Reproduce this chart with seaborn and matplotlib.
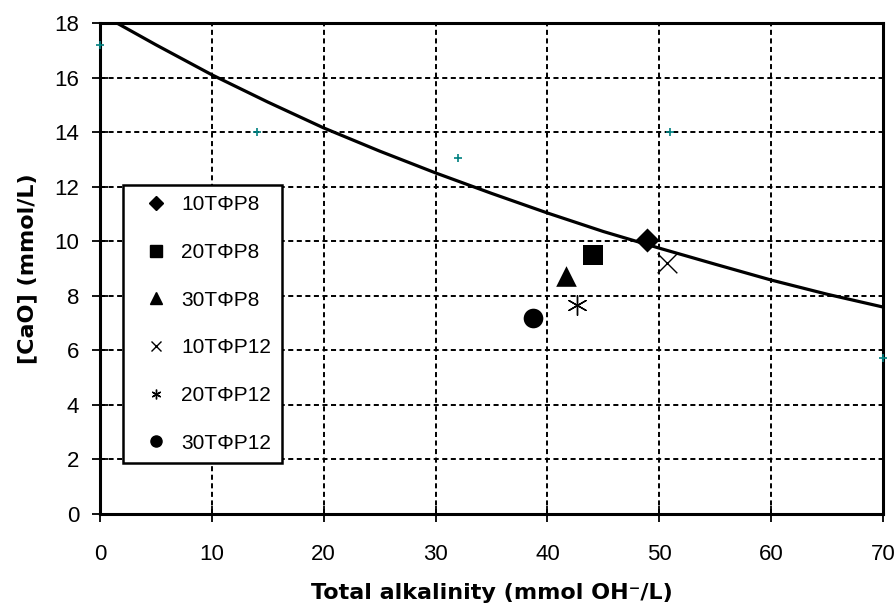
import numpy as np
import pandas as pd
import matplotlib
matplotlib.use("Agg")
import matplotlib.pyplot as plt
from matplotlib.lines import Line2D
import seaborn as sns

# solubility curve
curve_x = [1.5, 5, 10, 15, 20, 25, 30, 35, 40, 45, 50, 55, 60, 65, 70]
curve_y = [18.0, 17.2, 16.1, 15.1, 14.15, 13.3, 12.5, 11.75, 11.03, 10.35, 9.74, 9.15, 8.57, 8.05, 7.58]

# teal reference points
ref_x = [0, 14, 32, 51, 70]
ref_y = [17.2, 14.0, 13.05, 14.0, 5.7]

# samples
labels = ["10TΦP8", "20TΦP8", "30TΦP8", "10TΦP12", "20TΦP12", "30TΦP12"]
samp_x = [48.9, 44.1, 41.7, 50.7, 42.6, 38.7]
samp_y = [10.05, 9.5, 8.7, 9.2, 7.65, 7.17]

markers = ["D", "s", "^", "x", (6, 2, 0), "o"]
sizes = [150, 220, 220, 200, 200, 200]
leg_sizes = [7, 8, 9, 7, 7, 8]

sns.set_style("white")
plt.rcParams["font.family"] = ["Liberation Sans", "DejaVu Sans"]
plt.rcParams["text.color"] = "black"
plt.rcParams["axes.labelcolor"] = "black"
plt.rcParams["xtick.color"] = "black"
plt.rcParams["ytick.color"] = "black"

fig = plt.figure(figsize=(8.96, 6.05), dpi=100)
ax = fig.add_axes([0.1116, 0.151, 0.8739, 0.811])

sns.lineplot(x=curve_x, y=curve_y, ax=ax, color="black", linewidth=2.3, zorder=3)
sns.scatterplot(x=ref_x, y=ref_y, ax=ax, marker="+", color="#008080", s=40,
                linewidth=1.2, zorder=4, clip_on=False)

handles = []
for i in range(len(labels)):
    df = pd.DataFrame({"x": [samp_x[i]], "y": [samp_y[i]]})
    lw = 1.0 if labels[i] in ("10TΦP12", "20TΦP12") else 0
    sns.scatterplot(data=df, x="x", y="y", ax=ax, marker=markers[i], s=sizes[i],
                    color="black", edgecolor="black", linewidth=lw, zorder=5)
    handles.append(Line2D([], [], linestyle="none", marker=markers[i], color="black",
                          markersize=leg_sizes[i], markeredgewidth=1.0))

ax.set_xlim(0, 70)
ax.set_ylim(0, 18)
ax.set_xticks(range(0, 71, 10))
ax.set_yticks(range(0, 19, 2))
ax.grid(True, color="black", linestyle=(0, (2.6, 1.8)), linewidth=1.4)
for sp in ax.spines.values():
    sp.set_color("black")
    sp.set_linewidth(2.2)
ax.tick_params(axis="both", direction="inout", length=12, width=1.3, labelsize=16,
               left=True, bottom=True, colors="black")
ax.tick_params(axis="x", pad=16)
ax.tick_params(axis="y", pad=9)

ax.set_xlabel("Total alkalinity (mmol OH⁻/L)", fontsize=16, fontweight="bold",
              family="DejaVu Sans", labelpad=13, color="black")
ax.set_ylabel("[CaO] (mmol/L)", fontsize=16, fontweight="bold",
              family="DejaVu Sans", labelpad=12, color="black")

leg = ax.legend(handles, labels, loc="lower left", bbox_to_anchor=(0.029, 0.103),
                fontsize=15, frameon=True, fancybox=False, edgecolor="black",
                labelspacing=1.375, handlelength=2.16, handletextpad=0.15,
                borderpad=0.5, borderaxespad=0, labelcolor="black")
leg.get_frame().set_linewidth(1.8)
leg.get_frame().set_facecolor("white")
leg.get_frame().set_alpha(1)

fig.savefig("out.png", dpi=100)
